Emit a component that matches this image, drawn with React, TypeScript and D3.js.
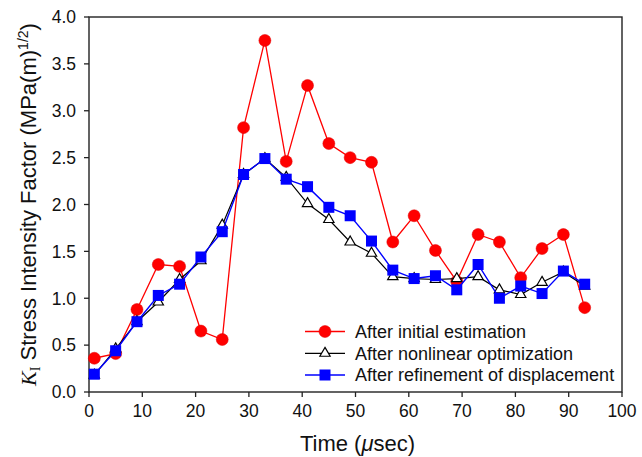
import React from "react";
import * as d3 from "d3";

// Sampling times (μsec)
const times = [1, 5, 9, 13, 17, 21, 25, 29, 33, 37, 41, 45, 49, 53, 57, 61, 65, 69, 73, 77, 81, 85, 89, 93];

// K_I values for each stage, MPa(m)^1/2
const initialEstimation = [0.36, 0.41, 0.88, 1.36, 1.34, 0.65, 0.56, 2.82, 3.75, 2.46, 3.27, 2.65, 2.50, 2.45, 1.60, 1.88, 1.51, 1.18, 1.68, 1.60, 1.22, 1.53, 1.68, 0.90];
const nonlinearOptimization = [0.18, 0.46, 0.75, 0.96, 1.20, 1.40, 1.78, 2.32, 2.49, 2.29, 2.01, 1.84, 1.60, 1.48, 1.23, 1.21, 1.20, 1.21, 1.23, 1.09, 1.04, 1.17, 1.28, 1.13];
const displacementRefinement = [0.19, 0.44, 0.75, 1.03, 1.15, 1.44, 1.71, 2.32, 2.49, 2.27, 2.19, 1.97, 1.88, 1.61, 1.30, 1.21, 1.24, 1.09, 1.36, 1.00, 1.13, 1.05, 1.29, 1.15];

const xTicks = [0, 10, 20, 30, 40, 50, 60, 70, 80, 90, 100];
const yTicks = [0, 0.5, 1.0, 1.5, 2.0, 2.5, 3.0, 3.5, 4.0];

const legendLabels = [
  "After initial estimation",
  "After nonlinear optimization",
  "After refinement of displacement",
];

const W = 642;
const H = 457;
const plot = { left: 89, right: 622, top: 17, bottom: 392 };
const FONT = "'Liberation Sans', Arial, Helvetica, sans-serif";
const SERIF = "'Liberation Serif', 'Times New Roman', serif";

export default function App() {
  const x = d3.scaleLinear().domain([0, 100]).range([plot.left, plot.right]);
  const y = d3.scaleLinear().domain([0, 4]).range([plot.bottom, plot.top]);

  const lineGen = (vals: number[]) =>
    d3
      .line<number>()
      .x((_, i) => x(times[i]))
      .y((v) => y(v))(vals) || "";

  const tri = d3.symbol().type(d3.symbolTriangle).size(46)() || "";

  const circle = (cx: number, cy: number, k: string) => (
    <circle key={k} cx={cx} cy={cy} r={6} fill="#ff0000" stroke="#e00000" strokeWidth={0.5} />
  );
  const triangle = (cx: number, cy: number, k: string) => (
    <path key={k} d={tri} transform={`translate(${cx},${cy})`} fill="#ffffff" stroke="#000000" strokeWidth={1.2} />
  );
  const square = (cx: number, cy: number, k: string) => (
    <rect key={k} x={cx - 5.5} y={cy - 5.5} width={11} height={11} fill="#0000ff" />
  );

  const series = [
    { vals: initialEstimation, color: "#ff0000", width: 1.3, marker: circle },
    { vals: nonlinearOptimization, color: "#000000", width: 1.2, marker: triangle },
    { vals: displacementRefinement, color: "#0000ff", width: 1.4, marker: square },
  ];

  const legendY = [331.5, 353.3, 375];

  return (
    <svg width={W} height={H} style={{ position: "absolute", left: 0, top: 0 }} fontFamily={FONT}>
      <rect width={W} height={H} fill="#ffffff" />

      {/* frame */}
      <rect
        x={plot.left}
        y={plot.top}
        width={plot.right - plot.left}
        height={plot.bottom - plot.top}
        fill="none"
        stroke="#222"
        strokeWidth={1.4}
      />

      {/* y ticks */}
      {yTicks.map((t) => (
        <g key={`y${t}`}>
          <line x1={plot.left - 5} x2={plot.left} y1={y(t)} y2={y(t)} stroke="#222" strokeWidth={1.3} />
          <text x={plot.left - 13} y={y(t)} dy="0.36em" textAnchor="end" fontSize={17.5} fill="#111">
            {t.toFixed(1)}
          </text>
        </g>
      ))}

      {/* x ticks */}
      {xTicks.map((t) => (
        <g key={`x${t}`}>
          <line x1={x(t)} x2={x(t)} y1={plot.bottom} y2={plot.bottom + 5} stroke="#222" strokeWidth={1.3} />
          <text x={x(t)} y={416.5} textAnchor="middle" fontSize={17.5} fill="#111">
            {t}
          </text>
        </g>
      ))}

      {/* axis titles */}
      <text x={(plot.left + plot.right) / 2 + 2} y={451} textAnchor="middle" fontSize={22} fill="#111">
        Time (<tspan fontStyle="italic">μ</tspan>sec)
      </text>
      <text
        transform={`translate(36,${(plot.top + plot.bottom) / 2}) rotate(-90)`}
        textAnchor="middle"
        fontSize={22}
        fill="#111"
      >
        <tspan fontFamily={SERIF} fontStyle="italic">K</tspan>
        <tspan fontFamily={SERIF} fontSize={14} dy={4}>I</tspan>
        <tspan dy={-4}> Stress Intensity Factor (MPa(m)</tspan>
        <tspan fontSize={14} dy={-8}>1/2</tspan>
        <tspan dy={8}>)</tspan>
      </text>

      {/* series */}
      {series.map((s, si) => (
        <g key={`s${si}`}>
          <path d={lineGen(s.vals)} fill="none" stroke={s.color} strokeWidth={s.width} />
          {s.vals.map((v, i) => s.marker(x(times[i]), y(v), `m${si}-${i}`))}
        </g>
      ))}

      {/* legend */}
      {series.map((s, si) => (
        <g key={`l${si}`}>
          <line x1={305} x2={345} y1={legendY[si]} y2={legendY[si]} stroke={s.color} strokeWidth={s.width} />
          {s.marker(325, legendY[si], `lm${si}`)}
          <text x={355} y={legendY[si]} dy="0.36em" fontSize={18} fill="#111">
            {legendLabels[si]}
          </text>
        </g>
      ))}
    </svg>
  );
}
